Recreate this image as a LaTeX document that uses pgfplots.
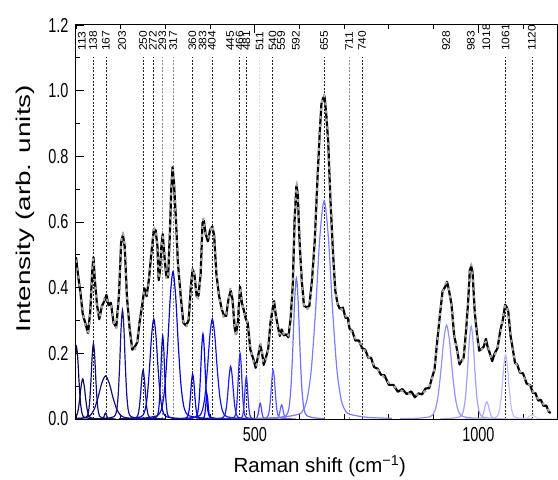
\documentclass[border=0pt]{standalone}
\usepackage{pgfplots}
\pgfplotsset{compat=1.18}
\usepackage{pgfplotstable}
\usepackage{fontspec}
\setmainfont{Liberation Sans}
\usepackage{graphicx}

\definecolor{c01}{RGB}{10,10,90}
\definecolor{c02}{RGB}{12,12,100}
\definecolor{c03}{RGB}{14,14,110}
\definecolor{c04}{RGB}{16,16,120}
\definecolor{c05}{RGB}{18,18,125}
\definecolor{c06}{RGB}{20,20,140}
\definecolor{c07}{RGB}{15,15,160}
\definecolor{c08}{RGB}{12,12,175}
\definecolor{c09}{RGB}{10,10,190}
\definecolor{c10}{RGB}{8,8,205}
\definecolor{c11}{RGB}{6,6,220}
\definecolor{c12}{RGB}{4,4,230}
\definecolor{c13}{RGB}{3,3,235}
\definecolor{c14}{RGB}{20,20,240}
\definecolor{c15}{RGB}{30,30,245}
\definecolor{c16}{RGB}{40,40,250}
\definecolor{c17}{RGB}{50,50,255}
\definecolor{c18}{RGB}{70,70,255}
\definecolor{c19}{RGB}{90,90,255}
\definecolor{c20}{RGB}{100,100,255}
\definecolor{c21}{RGB}{110,110,255}
\definecolor{c22}{RGB}{125,125,255}
\definecolor{c23}{RGB}{145,145,255}
\definecolor{c24}{RGB}{160,160,255}
\definecolor{c25}{RGB}{175,175,255}
\definecolor{c26}{RGB}{190,190,255}
\definecolor{c27}{RGB}{210,210,255}

\pgfplotstableread{
x y
100 .485
105 .44
110 .38
115 .33
120 .29
127 .266
132 .32
136 .45
139 .49
142 .43
147 .34
152 .31
158 .34
164 .37
168 .372
173 .35
178 .345
184 .30
190 .277
196 .38
201 .53
205 .566
209 .52
214 .38
220 .27
226 .215
231 .21
237 .24
243 .30
249 .36
253 .39
258 .38
263 .42
268 .505
274 .57
278 .58
282 .52
285 .43
288 .45
291 .53
294 .555
298 .50
302 .43
306 .44
310 .56
313 .70
316 .758
319 .73
323 .62
328 .48
334 .37
340 .30
346 .28
352 .31
357 .40
361 .46
365 .43
370 .38
374 .372
379 .45
383 .59
386 .61
390 .56
395 .55
400 .57
405 .59
409 .55
414 .45
420 .372
426 .34
431 .307
436 .32
441 .36
446 .40
450 .36
455 .28
458 .25
462 .30
467 .40
471 .36
476 .32
480 .31
484 .29
490 .22
496 .18
502 .16
507 .18
512 .232
516 .20
520 .17
525 .18
530 .22
535 .29
540 .345
543 .353
547 .32
552 .27
556 .26
560 .27
565 .26
570 .25
575 .255
580 .30
585 .42
589 .60
593 .713
596 .68
600 .55
605 .42
610 .35
616 .332
622 .35
628 .42
634 .55
640 .72
645 .87
649 .95
653 .985
656 .98
660 .93
664 .84
669 .68
675 .50
680 .40
685 .345
690 .34
697 .33
703 .315
708 .305
712 .28
718 .26
725 .245
733 .235
740 .225
747 .205
754 .19
760 .178
767 .165
775 .15
782 .14
790 .125
800 .11
810 .10
820 .092
830 .085
840 .08
850 .075
858 .073
866 .075
874 .08
882 .085
890 .10
896 .12
902 .16
908 .23
914 .32
920 .38
926 .41
930 .415
934 .40
940 .34
946 .26
952 .21
958 .175
962 .17
967 .19
972 .25
977 .36
981 .45
984 .47
987 .44
992 .33
997 .25
1002 .215
1007 .21
1012 .225
1017 .235
1021 .225
1026 .195
1031 .185
1037 .195
1043 .22
1049 .26
1055 .31
1060 .345
1063 .347
1067 .32
1072 .26
1077 .21
1082 .18
1087 .16
1093 .145
1100 .13
1108 .115
1116 .10
1122 .085
1128 .07
1134 .062
1140 .055
1146 .045
1152 .035
1158 .025
1162 .015
}\fitdata

\pgfplotstableread{
x y
100 .493
105 .434
110 .384
115 .321
120 .296
127 .262
132 .329
136 .443
139 .493
142 .425
147 .348
152 .304
158 .344
164 .361
168 .378
173 .346
178 .354
184 .293
190 .28
196 .375
201 .538
205 .56
209 .524
214 .371
220 .276
226 .211
231 .219
237 .233
243 .303
249 .355
253 .398
258 .374
263 .424
268 .496
274 .576
278 .576
282 .529
285 .423
288 .453
291 .525
294 .563
298 .494
302 .434
306 .431
310 .566
313 .696
316 .767
319 .723
323 .623
328 .475
334 .378
340 .294
346 .284
352 .301
357 .406
361 .456
365 .439
370 .373
374 .375
379 .445
383 .598
386 .604
390 .564
395 .541
400 .576
405 .586
409 .559
414 .443
420 .375
426 .335
431 .315
436 .314
441 .364
446 .391
450 .366
455 .276
458 .259
462 .293
467 .403
471 .355
476 .328
480 .304
484 .294
490 .211
496 .186
502 .156
507 .189
512 .225
516 .203
520 .165
525 .188
530 .214
535 .294
540 .336
543 .359
547 .316
552 .279
556 .253
560 .273
565 .255
570 .258
575 .249
580 .304
585 .411
589 .606
593 .709
596 .689
600 .543
605 .423
610 .345
616 .34
622 .344
628 .424
634 .541
640 .726
645 .866
649 .959
653 .978
656 .983
660 .925
664 .848
669 .674
675 .504
680 .391
685 .351
690 .336
697 .339
703 .308
708 .308
712 .275
718 .268
725 .239
733 .239
740 .216
747 .211
754 .186
760 .187
767 .158
775 .153
782 .135
790 .133
800 .104
810 .104
820 .083
830 .091
840 .076
850 .084
858 .066
866 .078
874 .075
882 .093
890 .094
896 .124
902 .151
908 .236
914 .316
920 .389
926 .403
930 .418
934 .395
940 .348
946 .254
952 .214
958 .166
962 .176
967 .186
972 .259
977 .353
981 .453
984 .465
987 .448
992 .326
997 .259
1002 .208
1007 .213
1012 .22
1017 .244
1021 .219
1026 .199
1031 .176
1037 .201
1043 .216
1049 .269
1055 .303
1060 .348
1063 .342
1067 .328
1072 .254
1077 .214
1082 .171
1087 .166
1093 .141
1100 .139
1108 .108
1116 .103
1122 .08
1128 .078
1134 .056
1140 .058
1146 .04
1152 .041
1158 .021
1162 .019
}\rawdata

\begin{document}
\begin{tikzpicture}
\useasboundingbox (-76bp,-61bp) rectangle (482bp,419bp);
\begin{axis}[
  at={(0,0)}, anchor=south west,
  scale only axis, width=481bp, height=394bp,
  xmin=100, xmax=1176, ymin=0, ymax=1.2,
  xtick={500,1000}, minor xtick={100,200,300,400,600,700,800,900,1100},
  ytick={0,0.2,0.4,0.6,0.8,1.0,1.2}, minor ytick={0.1,0.3,0.5,0.7,0.9,1.1},
  tick align=inside, xtick pos=both, ytick pos=left,
  major tick length=8bp, minor tick length=4.5bp,
  tick style={black, line width=0.9bp},
  axis line style={line width=1bp},
  /pgf/number format/1000 sep={},
  /pgf/number format/assume math mode=true,
  ticklabel style={font=\fontsize{14.5}{16}\selectfont},
  yticklabel={\scalebox{1}[1.4]{\pgfmathprintnumber[fixed,fixed zerofill,precision=1]{\tick}}},
  xticklabel={\scalebox{1}[1.4]{\pgfmathprintnumber{\tick}}},
  yticklabel style={xshift=-4bp},
  xticklabel style={yshift=-5bp},
  xlabel={Raman shift (cm\textsuperscript{−1})},
  ylabel={\scalebox{1.4}[1]{Intensity (arb. units)}},
  xlabel style={font=\fontsize{20.5}{24}\selectfont, at={(axis description cs:0.507,-0.12)}, anchor=center},
  ylabel style={font=\fontsize{20}{24}\selectfont, at={(axis description cs:-0.106,0.534)}, anchor=center},
  clip=true,
]
% vertical dashed lines
\pgfplotsinvokeforeach{138,167,250,272,360,404,466,481,540,655,740,1061,1120}{
  \addplot[black!85, line width=0.7bp, dash pattern=on 2bp off 1.5bp] coordinates {(#1,0) (#1,1.104)};
}
\pgfplotsinvokeforeach{293,317,711}{
  \addplot[black!45, line width=0.7bp, dash pattern=on 2bp off 1.5bp] coordinates {(#1,0) (#1,1.104)};
}
\addplot[black!15, line width=0.7bp, dash pattern=on 2bp off 1.5bp] coordinates {(511,0) (511,1.104)};

% components
\addplot[c01, line width=1.2bp, smooth] coordinates {(53,.0007)(71,.0018)(83,.0048)(86,.0084)(89,.0198)(92,.0506)(95,.11)(98,.1833)(101,.22)(104,.1833)(107,.11)(110,.0506)(113,.0198)(116,.0084)(119,.0048)(131,.0018)(149,.0007)};
\addplot[c02, line width=1.2bp, smooth] coordinates {(61.4,.0004)(81.5,.001)(94.9,.0027)(98.25,.0046)(101.6,.011)(104.95,.0281)(108.3,.061)(111.65,.1016)(115,.122)(118.35,.1016)(121.7,.061)(125.05,.0281)(128.4,.011)(131.75,.0046)(135.1,.0027)(148.5,.001)(168.6,.0004)};
\addplot[c03, line width=1.2bp, smooth] coordinates {(94.2,.0007)(111,.0018)(122.2,.0051)(125,.0087)(127.8,.0207)(130.6,.0529)(133.4,.115)(136.2,.1916)(139,.23)(141.8,.1916)(144.6,.115)(147.4,.0529)(150.2,.0207)(153,.0087)(155.8,.0051)(167,.0018)(183.8,.0007)};
\addplot[c04, line width=1.2bp, smooth] coordinates {(32.4,.0004)(82.5,.001)(115.9,.0029)(124.25,.005)(132.6,.0118)(140.95,.0301)(149.3,.0655)(157.65,.1091)(166,.131)(174.35,.1091)(182.7,.0655)(191.05,.0301)(199.4,.0118)(207.75,.005)(216.1,.0029)(249.5,.001)(299.6,.0004)};
\addplot[c05, line width=1.2bp, smooth] coordinates {(142,.0001)(151,.0001)(157,.0004)(158.5,.0007)(160,.0016)(161.5,.0041)(163,.009)(164.5,.015)(166,.018)(167.5,.015)(169,.009)(170.5,.0041)(172,.0016)(173.5,.0007)(175,.0004)(181,.0001)(190,.0001)};
\addplot[c06, line width=1.2bp, smooth] coordinates {(153.6,.001)(172.5,.0027)(185.1,.0073)(188.25,.0126)(191.4,.0299)(194.55,.0764)(197.7,.166)(200.85,.2766)(204,.332)(207.15,.2766)(210.3,.166)(213.45,.0764)(216.6,.0299)(219.75,.0126)(222.9,.0073)(235.5,.0027)(254.4,.001)};
\addplot[c07, line width=1.2bp, smooth] coordinates {(205.2,.0004)(222,.0012)(233.2,.0033)(236,.0057)(238.8,.0134)(241.6,.0343)(244.4,.0745)(247.2,.1241)(250,.149)(252.8,.1241)(255.6,.0745)(258.4,.0343)(261.2,.0134)(264,.0057)(266.8,.0033)(278,.0012)(294.8,.0004)};
\addplot[c08, line width=1.2bp, smooth] coordinates {(196.4,.0009)(225.5,.0024)(244.9,.0067)(249.75,.0116)(254.6,.0275)(259.45,.0702)(264.3,.1525)(269.15,.2541)(274,.305)(278.85,.2541)(283.7,.1525)(288.55,.0702)(293.4,.0275)(298.25,.0116)(303.1,.0067)(322.5,.0024)(351.6,.0009)};
\addplot[c09, line width=1.2bp, smooth] coordinates {(255.6,.0008)(270,.002)(279.6,.0056)(282,.0096)(284.4,.0228)(286.8,.0582)(289.2,.1265)(291.6,.2107)(294,.253)(296.4,.2107)(298.8,.1265)(301.2,.0582)(303.6,.0228)(306,.0096)(308.4,.0056)(318,.002)(332.4,.0008)};
\addplot[c10, line width=1.2bp, smooth] coordinates {(221.8,.0013)(257.5,.0036)(281.3,.0099)(287.25,.0171)(293.2,.0404)(299.15,.1033)(305.1,.2245)(311.05,.374)(317,.449)(322.95,.374)(328.9,.2245)(334.85,.1033)(340.8,.0404)(346.75,.0171)(352.7,.0099)(376.5,.0036)(412.2,.0013)};
\addplot[c11, line width=1.2bp, smooth] coordinates {(321,.0004)(336,.0011)(346,.003)(348.5,.0052)(351,.0123)(353.5,.0315)(356,.0685)(358.5,.1141)(361,.137)(363.5,.1141)(366,.0685)(368.5,.0315)(371,.0123)(373.5,.0052)(376,.003)(386,.0011)(401,.0004)};
\addplot[c12, line width=1.2bp, smooth] coordinates {(339.2,.0008)(356,.0021)(367.2,.0057)(370,.0098)(372.8,.0233)(375.6,.0596)(378.4,.1295)(381.2,.2157)(384,.259)(386.8,.2157)(389.6,.1295)(392.4,.0596)(395.2,.0233)(398,.0098)(400.8,.0057)(412,.0021)(428.8,.0008)};
\addplot[c13, line width=1.2bp, smooth] coordinates {(369,.0002)(378,.0006)(384,.0017)(385.5,.0029)(387,.0068)(388.5,.0173)(390,.0375)(391.5,.0625)(393,.075)(394.5,.0625)(396,.0375)(397.5,.0173)(399,.0068)(400.5,.0029)(402,.0017)(408,.0006)(417,.0002)};
\addplot[c14, line width=1.2bp, smooth] coordinates {(317,.0009)(350,.0024)(372,.0067)(377.5,.0116)(383,.0275)(388.5,.0702)(394,.1525)(399.5,.2541)(405,.305)(410.5,.2541)(416,.1525)(421.5,.0702)(427,.0275)(432.5,.0116)(438,.0067)(460,.0024)(493,.0009)};
\addplot[c15, line width=1.2bp, smooth] coordinates {(395.6,.0005)(414.5,.0013)(427.1,.0035)(430.25,.0061)(433.4,.0144)(436.55,.0368)(439.7,.08)(442.85,.1333)(446,.16)(449.15,.1333)(452.3,.08)(455.45,.0368)(458.6,.0144)(461.75,.0061)(464.9,.0035)(477.5,.0013)(496.4,.0005)};
\addplot[c16, line width=1.2bp, smooth] coordinates {(428.6,.0006)(443,.0016)(452.6,.0044)(455,.0076)(457.4,.018)(459.8,.046)(462.2,.1)(464.6,.1666)(467,.2)(469.4,.1666)(471.8,.1)(474.2,.046)(476.6,.018)(479,.0076)(481.4,.0044)(491,.0016)(505.4,.0006)};
\addplot[c17, line width=1.2bp, smooth] coordinates {(449,.0004)(461,.001)(469,.0028)(471,.0049)(473,.0116)(475,.0297)(477,.0645)(479,.1075)(481,.129)(483,.1075)(485,.0645)(487,.0297)(489,.0116)(491,.0049)(493,.0028)(501,.001)(513,.0004)};
\addplot[c18, line width=1.2bp, smooth] coordinates {(484,.0001)(494.5,.0004)(501.5,.0011)(503.25,.0018)(505,.0043)(506.75,.011)(508.5,.024)(510.25,.04)(512,.048)(513.75,.04)(515.5,.024)(517.25,.011)(519,.0043)(520.75,.0018)(522.5,.0011)(529.5,.0004)(540,.0001)};
\addplot[c19, line width=1.2bp, smooth] coordinates {(499.4,.0004)(515,.0012)(525.4,.0033)(528,.0057)(530.6,.0134)(533.2,.0343)(535.8,.0745)(538.4,.1241)(541,.149)(543.6,.1241)(546.2,.0745)(548.8,.0343)(551.4,.0134)(554,.0057)(556.6,.0033)(567,.0012)(582.6,.0004)};
\addplot[c20, line width=1.2bp, smooth] coordinates {(528,.0001)(540,.0003)(548,.0009)(550,.0016)(552,.0039)(554,.0099)(556,.0215)(558,.0358)(560,.043)(562,.0358)(564,.0215)(566,.0099)(568,.0039)(570,.0016)(572,.0009)(580,.0003)(592,.0001)};
\addplot[c21, line width=1.2bp, smooth] coordinates {(529,.0013)(553,.0034)(569,.0095)(573,.0163)(577,.0387)(581,.0989)(585,.215)(589,.3582)(593,.43)(597,.3582)(601,.215)(605,.0989)(609,.0387)(613,.0163)(617,.0095)(633,.0034)(657,.0013)};
\addplot[c22, line width=1.2bp, smooth] coordinates {(503,.002)(560,.0053)(598,.0146)(607.5,.0253)(617,.0599)(626.5,.153)(636,.3325)(645.5,.5539)(655,.665)(664.5,.5539)(674,.3325)(683.5,.153)(693,.0599)(702.5,.0253)(712,.0146)(750,.0053)(807,.002)};
\addplot[c23, line width=1.2bp, smooth] coordinates {(825,.0009)(864,.0023)(890,.0063)(896.5,.0109)(903,.0257)(909.5,.0658)(916,.143)(922.5,.2382)(929,.286)(935.5,.2382)(942,.143)(948.5,.0658)(955,.0257)(961.5,.0109)(968,.0063)(994,.0023)(1033,.0009)};
\addplot[c24, line width=1.2bp, smooth] coordinates {(915.2,.0008)(941,.0023)(958.2,.0062)(962.5,.0108)(966.8,.0255)(971.1,.0651)(975.4,.1415)(979.7,.2357)(984,.283)(988.3,.2357)(992.6,.1415)(996.9,.0651)(1001.2,.0255)(1005.5,.0108)(1009.8,.0062)(1027,.0023)(1052.8,.0008)};
\addplot[c25, line width=1.2bp, smooth] coordinates {(971,.0002)(989,.0004)(1001,.0011)(1004,.002)(1007,.0047)(1010,.012)(1013,.026)(1016,.0433)(1019,.052)(1022,.0433)(1025,.026)(1028,.012)(1031,.0047)(1034,.002)(1037,.0011)(1049,.0004)(1067,.0002)};
\addplot[c26, line width=1.2bp, smooth] coordinates {(998.6,.0006)(1022,.0016)(1037.6,.0043)(1041.5,.0074)(1045.4,.0176)(1049.3,.0449)(1053.2,.0975)(1057.1,.1624)(1061,.195)(1064.9,.1624)(1068.8,.0975)(1072.7,.0449)(1076.6,.0176)(1080.5,.0074)(1084.4,.0043)(1100,.0016)(1123.4,.0006)};
\addplot[c27, line width=1.2bp, smooth] coordinates {(1056,0)(1080,.0001)(1096,.0003)(1100,.0005)(1104,.0011)(1108,.0028)(1112,.006)(1116,.01)(1120,.012)(1124,.01)(1128,.006)(1132,.0028)(1136,.0011)(1140,.0005)(1144,.0003)(1160,.0001)(1184,0)};

% measured spectrum and fit
\addplot[black, line width=2.2bp, line join=round] table {\rawdata};
\addplot[black!35, line width=2.0bp, smooth, dash pattern=on 3bp off 5bp] table {\fitdata};

% peak labels
\pgfplotsinvokeforeach{113,138,167,203,250,272,293,317,360,383,404,445,466,481,511,540,559,592,655,711,740,928,983,1018,1061,1120}{
  \node[rotate=90, anchor=west, inner sep=0pt, font=\fontsize{11}{13}\selectfont] at (axis cs:#1,1.121) {\scalebox{1.1}[1]{#1}};
}
\end{axis}
\end{tikzpicture}
\end{document}
